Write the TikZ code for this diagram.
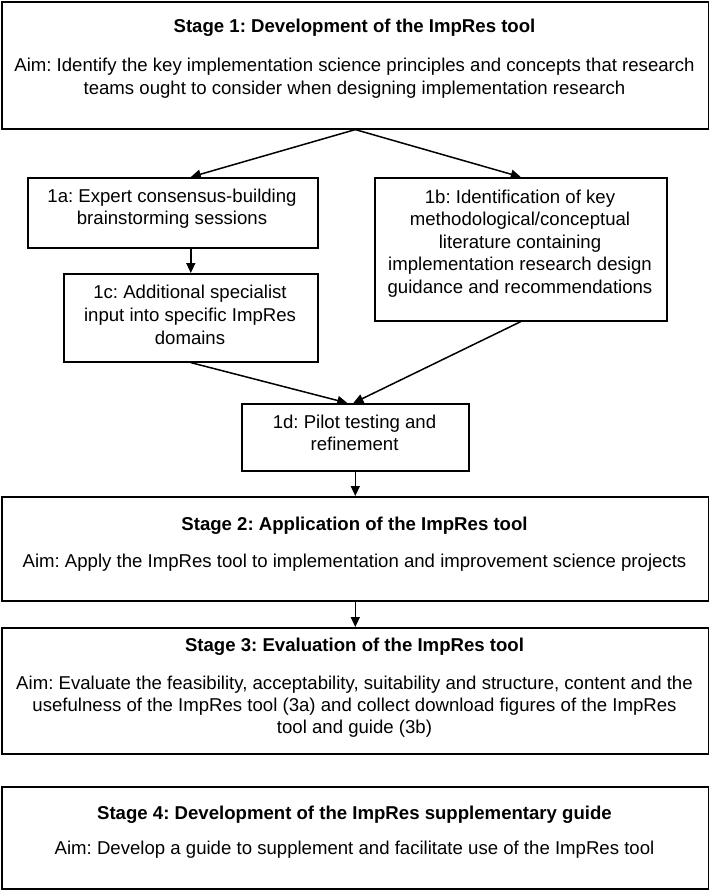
\documentclass[tikz,border=0pt]{standalone}
\usepackage{fontspec}
\setmainfont{Liberation Sans}
\usetikzlibrary{arrows.meta,calc}
\frenchspacing
\begin{document}
\frenchspacing
\begin{tikzpicture}[x=1pt,y=-1pt,
  box/.style={draw=black, line width=1.6pt, rectangle, inner sep=0pt, anchor=north west},
  txt/.style={font=\fontsize{18.6}{22}\selectfont, inner sep=0pt, anchor=base},
  ttl/.style={inner sep=0pt, anchor=base, font=\fontsize{18.6}{22}\selectfont\bfseries},
  arr/.style={line width=1.5pt, -{Triangle[length=10pt,width=9pt]}}]
\useasboundingbox (0,0) rectangle (709,891);

% boxes
\node[box, minimum width=707pt, minimum height=127pt] (s1) at (1,1) {};
\node[box, minimum width=290pt, minimum height=70pt] (a1) at (27,177) {};
\node[box, minimum width=292pt, minimum height=143pt] (b1) at (374,177) {};
\node[box, minimum width=254pt, minimum height=88pt] (c1) at (63,273) {};
\node[box, minimum width=227pt, minimum height=67pt] (d1) at (241,403) {};
\node[box, minimum width=707pt, minimum height=104pt] (s2) at (1,496) {};
\node[box, minimum width=707pt, minimum height=126pt] (s3) at (1,627) {};
\node[box, minimum width=707pt, minimum height=102pt] (s4) at (1,786) {};

% Stage 1 text
\node[ttl] (s1t) at (354.5,33) {Stage 1: Development of the ImpRes tool};
\node[txt] (s1l1) at (354.5,71.5) {Aim: Identify the key implementation science principles and concepts that research};
\node[txt] (s1l2) at (354.5,94) {teams ought to consider when designing implementation research};

% 1a
\node[txt] (a1l1) at (172,202) {1a: Expert consensus-building};
\node[txt] (a1l2) at (172,224.5) {brainstorming sessions};

% 1b
\node[txt] (b1l1) at (520,203) {1b: Identification of key};
\node[txt] (b1l2) at (520,225.5) {methodological/conceptual};
\node[txt] (b1l3) at (520,248) {literature containing};
\node[txt] (b1l4) at (520,270.5) {implementation research design};
\node[txt] (b1l5) at (520,293) {guidance and recommendations};

% 1c
\node[txt] (c1l1) at (190,298.5) {1c: Additional specialist};
\node[txt] (c1l2) at (190,321.5) {input into specific ImpRes};
\node[txt] (c1l3) at (190,344.5) {domains};

% 1d
\node[txt] (d1l1) at (354.5,428) {1d: Pilot testing and};
\node[txt] (d1l2) at (354.5,450.5) {refinement};

% Stage 2
\node[ttl] (s2t) at (354.5,530) {Stage 2: Application of the ImpRes tool};
\node[txt] (s2l1) at (354.5,567) {Aim: Apply the ImpRes tool to implementation and improvement science projects};

% Stage 3
\node[ttl] (s3t) at (354.5,651.5) {Stage 3: Evaluation of the ImpRes tool};
\node[txt] (s3l1) at (354.5,689) {Aim: Evaluate the feasibility, acceptability, suitability and structure, content and the};
\node[txt] (s3l2) at (354.5,711) {usefulness of the ImpRes tool (3a) and collect download figures of the ImpRes};
\node[txt] (s3l3) at (354.5,733) {tool and guide (3b)};

% Stage 4
\node[ttl] (s4t) at (354.5,819) {Stage 4: Development of the ImpRes supplementary guide};
\node[txt] (s4l1) at (354.5,854) {Aim: Develop a guide to supplement and facilitate use of the ImpRes tool};

% connectors
\draw[arr] (s1.south) -- (a1.north -| c1.north);
\draw[arr] (s1.south) -- (b1.north);
\draw[arr] (a1.south -| c1.north) -- (c1.north);
\draw[arr] (c1.south) -- ([xshift=-8pt]d1.north);
\draw[arr] (b1.south) -- ([xshift=-2pt]d1.north);
\draw[arr] (d1.south) -- (s2.north);
\draw[arr] (s2.south) -- (s3.north);
\end{tikzpicture}
\end{document}
